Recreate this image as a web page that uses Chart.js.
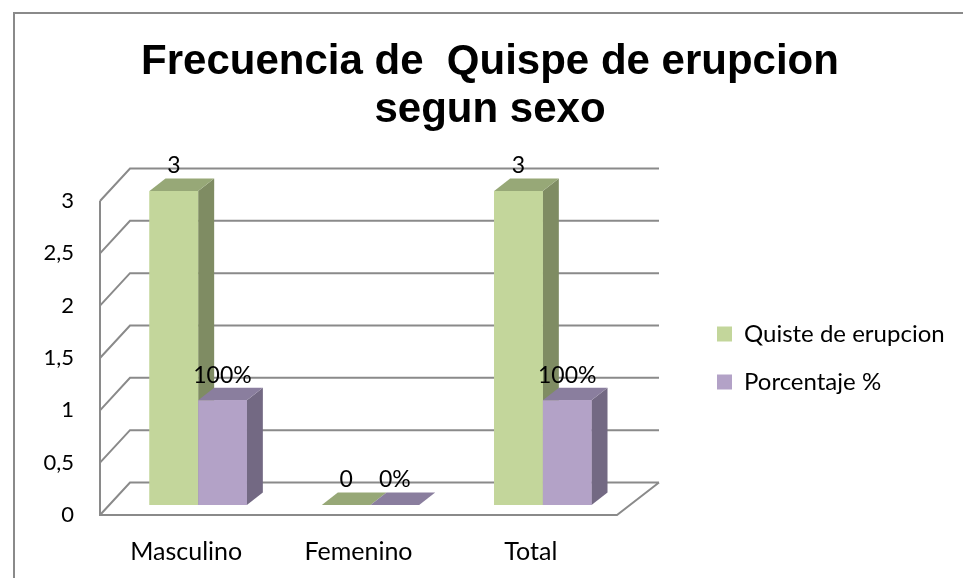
<!DOCTYPE html>
<html>
<head>
<meta charset="utf-8">
<script src="https://cdn.jsdelivr.net/npm/chart.js@4.4.0/dist/chart.umd.min.js"></script>
<style>
    html, body { margin: 0; overflow: hidden; background: #fff; }
    #frame { position: absolute; left: 13px; top: 12px; width: 1000px; height: 620px; border: 2px solid #8a8a8a; }
    #wrap { position: absolute; left: 0; top: 0; width: 963px; height: 578px; }
</style>
</head>
<body>
<div id="frame"></div>
<div id="wrap"><canvas id="myChart"></canvas></div>
<script>
const categories = ['Masculino', 'Femenino', 'Total']
const quisteValues = [3, 0, 3]
const porcentajeValues = [1, 0, 1]
const quisteLabels = ['3', '0', '3']
const porcentajeLabels = ['100%', '0%', '100%']
const yTickLabels = ['0', '0,5', '1', '1,5', '2', '2,5', '3']

// fake 3d: wall depth, where bars sit, and bar depth
const wallDepth = { x: 30, y: -32.5 }
const barShift = { x: 12, y: -10 }
const barDepth = { x: 16, y: -12.5 }
const sideColors = ['#7f8c63', '#736983']
const topColors = ['#97a877', '#8a7e9e']

const font = 'Lato'

const walls3d = {
    id: 'walls3d',
    beforeDatasetsDraw(chart) {
        const {ctx, chartArea} = chart
        const y = chart.scales.y
        const L = chartArea.left, R = chartArea.right
        const y0 = y.getPixelForValue(0)
        const yTop = y.getPixelForValue(y.max)

        ctx.save()
        ctx.strokeStyle = '#8a8a8a'
        ctx.lineWidth = 2
        ctx.beginPath()
        y.ticks.forEach(t => {
            const py = y.getPixelForValue(t.value)
            ctx.moveTo(L, py)
            ctx.lineTo(L + wallDepth.x, py + wallDepth.y)
            ctx.lineTo(R + 42, py + wallDepth.y)
        })
        ctx.moveTo(L, yTop)
        ctx.lineTo(L, y0)
        ctx.lineTo(R, y0)
        ctx.lineTo(R + 42, y0 + wallDepth.y)
        ctx.stroke()
        ctx.restore()

        // bars are drawn a bit deeper than the front plane
        ctx.save()
        ctx.translate(barShift.x, barShift.y)
    },
    afterDatasetsDraw(chart) {
        const {ctx} = chart
        const metas = chart.data.datasets.map((d, i) => chart.getDatasetMeta(i))

        categories.forEach((c, i) => {
            metas.forEach((meta, d) => {
                const bar = meta.data[i]
                const {x, y, base, width} = bar.getProps(['x', 'y', 'base', 'width'], true)
                const l = x - width / 2
                const r = x + width / 2

                ctx.fillStyle = sideColors[d]
                ctx.beginPath()
                ctx.moveTo(r, y)
                ctx.lineTo(r + barDepth.x, y + barDepth.y)
                ctx.lineTo(r + barDepth.x, base + barDepth.y)
                ctx.lineTo(r, base)
                ctx.closePath()
                ctx.fill()

                ctx.fillStyle = topColors[d]
                ctx.beginPath()
                ctx.moveTo(l, y)
                ctx.lineTo(r, y)
                ctx.lineTo(r + barDepth.x, y + barDepth.y)
                ctx.lineTo(l + barDepth.x, y + barDepth.y)
                ctx.closePath()
                ctx.fill()

                bar.draw(ctx)
            })
        })

        const valueLabels = [quisteLabels, porcentajeLabels]
        ctx.fillStyle = '#000'
        ctx.font = '23px ' + font
        ctx.textAlign = 'center'
        ctx.textBaseline = 'middle'
        metas.forEach((meta, d) => {
            meta.data.forEach((bar, i) => {
                ctx.fillText(valueLabels[d][i], bar.x, bar.y - 25)
            })
        })
        ctx.restore()
    }
}

const ctx = document.getElementById('myChart')

new Chart(ctx, {
    type: 'bar',
    data: {
        labels: categories,
        datasets: [
            {
                label: 'Quiste de erupcion',
                data: quisteValues,
                backgroundColor: '#c3d69b',
                clip: false
            },
            {
                label: 'Porcentaje %',
                data: porcentajeValues,
                backgroundColor: '#b3a2c7',
                clip: false
            }
        ]
    },
    options: {
        responsive: true,
        maintainAspectRatio: false,
        animation: false,
        layout: { padding: { left: 26, right: 9, top: 0, bottom: 0 } },
        datasets: {
            bar: { categoryPercentage: 0.565, barPercentage: 1 }
        },
        scales: {
            x: {
                grid: { display: false },
                border: { display: false },
                ticks: { color: '#000', padding: 14, font: { family: font, size: 25 } },
                afterFit: s => { s.height = 63 }
            },
            y: {
                min: 0,
                max: 3,
                grid: { display: false, drawTicks: false },
                border: { display: false },
                ticks: {
                    stepSize: 0.5,
                    color: '#000',
                    padding: 26,
                    font: { family: font, size: 22 },
                    callback: (v, i) => yTickLabels[i]
                },
                afterFit: s => { s.width = 74 }
            },
            gap: {
                position: 'right',
                grid: { display: false, drawTicks: false },
                border: { display: false },
                ticks: { display: false },
                afterFit: s => { s.width = 76 }
            }
        },
        plugins: {
            title: {
                display: true,
                text: ['Frecuencia de  Quispe de erupcion', 'segun sexo'],
                color: '#000',
                font: { family: 'Liberation Sans', size: 42, weight: 'bold', lineHeight: 48 / 42 },
                padding: { top: 38, bottom: 67 }
            },
            legend: {
                position: 'right',
                fullSize: false,
                maxWidth: 261,
                labels: {
                    boxWidth: 15,
                    boxHeight: 15,
                    padding: 24,
                    color: '#000',
                    font: { family: font, size: 24 }
                }
            },
            tooltip: { enabled: false }
        }
    },
    plugins: [walls3d]
})
</script>
</body>
</html>
